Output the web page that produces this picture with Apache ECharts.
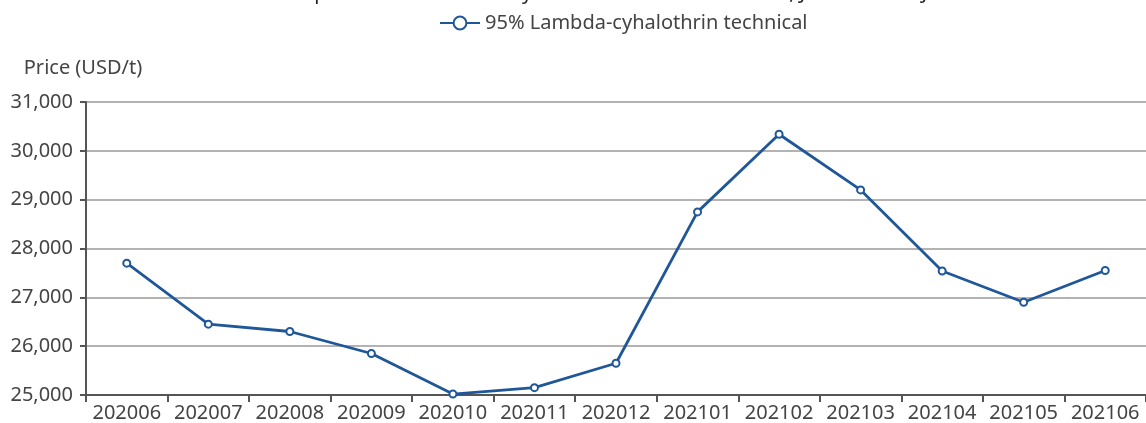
<!DOCTYPE html>
<html>
<head>
<meta charset="utf-8">
<script src="https://cdn.jsdelivr.net/npm/echarts@6/dist/echarts.min.js"></script>
<style>
  html, body { margin: 0; padding: 0; background: #fff; }
  #main-chart { width: 1146px; height: 423px; }
</style>
</head>
<body>
<div id="main-chart"></div>
<script>
// 月份
const months = ['202006', '202007', '202008', '202009', '202010', '202011', '202012',
                '202101', '202102', '202103', '202104', '202105', '202106'];
// 价格 (USD/t)
const prices = [27700, 26450, 26300, 25850, 25020, 25150, 25650,
                28750, 30340, 29200, 27540, 26900, 27550];
const seriesName = '95% Lambda-cyhalothrin technical';
const titleText = 'Chinese ex-works price of 95% lambda-cyhalothrin technical in China, June 2020 to June 2021';

const FONT = '"Noto Sans", sans-serif';
const LINE = '#1f5799';

const chart = echarts.init(document.getElementById('main-chart'));

chart.setOption({
    backgroundColor: '#fff',
    animation: false,
    title: {
        text: titleText,
        left: 140,
        top: -22,
        textStyle: { color: '#222', fontFamily: FONT, fontSize: 20, fontWeight: 'normal' }
    },
    legend: {
        left: 434,
        top: 8,
        itemWidth: 40,
        itemHeight: 16,
        itemGap: 10,
        textStyle: { color: '#444', fontFamily: FONT, fontSize: 20 },
        data: [seriesName]
    },
    grid: { left: 86, right: -8, top: 102, bottom: 28, containLabel: false },
    xAxis: {
        type: 'category',
        boundaryGap: true,
        data: months,
        axisLine: { lineStyle: { color: '#555', width: 2 } },
        axisTick: { show: true, length: 7, lineStyle: { color: '#555', width: 2 } },
        axisLabel: { interval: 0, color: '#444', fontFamily: FONT, fontSize: 20, margin: 8 },
        splitLine: { show: false }
    },
    yAxis: {
        type: 'value',
        min: 25000,
        max: 31000,
        interval: 1000,
        name: 'Price (USD/t)',
        nameLocation: 'end',
        nameGap: 24,
        nameTextStyle: { color: '#444', fontFamily: FONT, fontSize: 20, align: 'center', padding: [0, 0, 0, -6] },
        axisLine: { show: true, lineStyle: { color: '#555', width: 2 } },
        axisTick: { show: true, length: 6, lineStyle: { color: '#555', width: 2 } },
        axisLabel: {
            color: '#444', fontFamily: FONT, fontSize: 20, margin: 13,
            formatter: v => v.toLocaleString('en-US')
        },
        splitLine: { lineStyle: { color: '#b3b3b3', width: 2 } }
    },
    series: [
        {
            name: seriesName,
            type: 'line',
            data: prices,
            symbol: 'emptyCircle',
            symbolSize: 7,
            lineStyle: { color: LINE, width: 2.8 },
            itemStyle: { color: LINE, borderColor: LINE, borderWidth: 1.5 }
        }
    ]
});
</script>
</body>
</html>
